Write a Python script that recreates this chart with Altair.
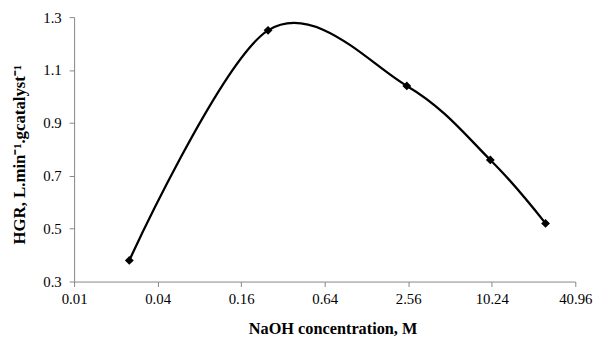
import altair as alt
import pandas as pd

conc = [0.025, 0.25, 2.5, 10, 25]
hgr = [0.38, 1.25, 1.04, 0.76, 0.52]
x_ticks = [0.01, 0.04, 0.16, 0.64, 2.56, 10.24, 40.96]
y_ticks = [0.3, 0.5, 0.7, 0.9, 1.1, 1.3]

df = pd.DataFrame({"conc": conc, "hgr": hgr})

axis_common = dict(
    grid=False,
    domainColor="#868686",
    tickColor="#868686",
    tickSize=5,
    labelFlush=False,
    labelFont="Liberation Serif",
    labelFontSize=15,
    labelColor="#000000",
    titleFont="Liberation Serif",
    titleFontWeight="bold",
    titleColor="#000000",
)

x = alt.X(
    "conc:Q",
    scale=alt.Scale(type="log", base=4, domain=[0.01, 40.96], nice=False),
    axis=alt.Axis(values=x_ticks, format=".4~g", title="NaOH concentration, M",
                  labelPadding=5, titlePadding=15, titleX=262, titleFontSize=16.5,
                  **axis_common),
)
y = alt.Y(
    "hgr:Q",
    scale=alt.Scale(domain=[0.3, 1.3], nice=False, zero=False),
    axis=alt.Axis(values=y_ticks, format=".1f", title="HGR, L.min⁻¹.gcatalyst⁻¹",
                  labelPadding=8, titlePadding=15, titleY=139, titleFontSize=17,
                  **axis_common),
)

base = alt.Chart(df)
line = base.mark_line(interpolate="cardinal", color="#000000", strokeWidth=2.3).encode(x=x, y=y)
pts = base.mark_point(shape="diamond", filled=True, color="#000000", size=80, opacity=1).encode(x=x, y=y)

chart = (
    alt.layer(line, pts)
    .properties(
        width=508,
        height=268,
        padding={"left": 67, "top": 7, "right": 22, "bottom": 60},
        autosize=alt.AutoSizeParams(type="none"),
    )
    .configure_view(stroke=None)
)

chart.save("out.html", embed_options={"renderer": "svg", "actions": False})
